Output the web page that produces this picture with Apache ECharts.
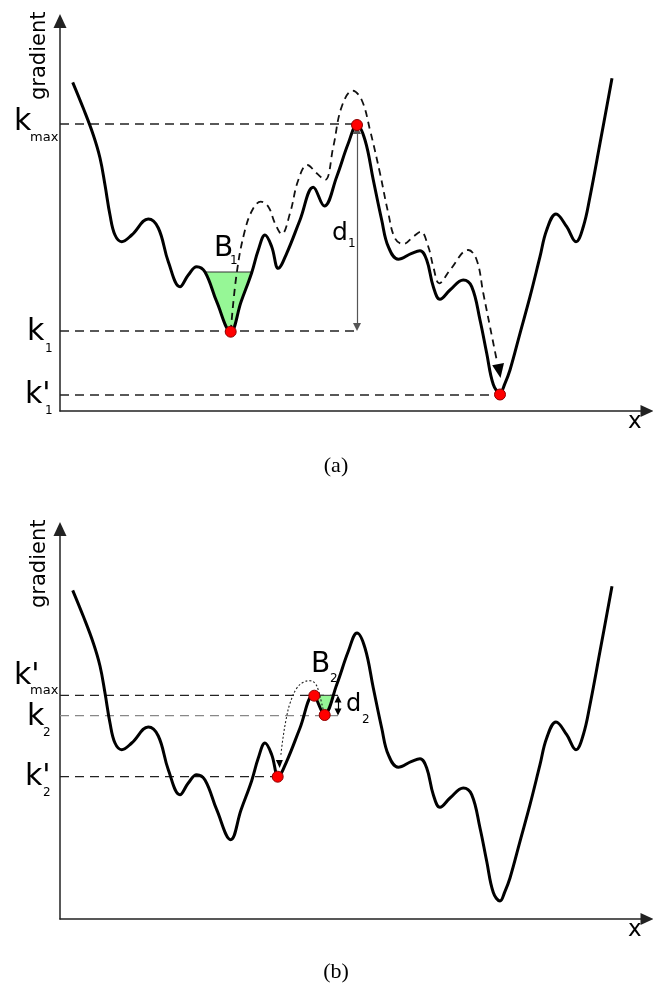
<!DOCTYPE html>
<html>
<head>
<meta charset="utf-8">
<script src="https://cdn.jsdelivr.net/npm/echarts@6/dist/echarts.min.js"></script>
<style>
  html, body { margin: 0; padding: 0; background: #fff; }
  #chart { width: 653px; height: 987px; }
</style>
</head>
<body>
<div id="chart"></div>
<script>
// energy landscape, same curve in both panels (x along axis, y height above x-axis)
const curveX = [12.7, 23.3, 33.3, 40, 45, 50, 55, 61.7, 71.7, 88.3, 98.3, 108.3, 120, 128.3, 136.7, 145, 156.7, 170.7, 181, 191.7,
  198.3, 205, 211.7, 218.3, 226.7, 240, 253.3, 264.3, 276.7, 288.3, 297, 305, 313.3, 321.7, 328.3, 338.3, 351.7, 360, 366.7, 373.3,
  380, 390, 403.3, 411.7, 420, 426.7, 433.3, 440, 445, 450, 460, 470, 480, 486.7, 496, 506.7, 516, 523.3, 530, 540, 552];
const curveY = [328.7, 302.7, 276, 253, 226, 196, 176, 169.3, 176, 192, 183, 149.3, 124.3, 136, 144.3, 139, 109.3, 79.3, 109, 138.3,
  161, 176, 164.3, 142.7, 157.7, 191, 223.7, 205, 234.3, 267.7, 286, 271, 231, 191, 164.3, 151.7, 157.7, 160.3, 151, 124.3,
  111.7, 121, 131, 124.3, 91, 57.7, 26.5, 18, 27.7, 41, 77.7, 114.3, 154.3, 181, 197, 184.3, 169.3, 184.3, 214.3, 267.7, 332.7];

// panel (a): dashed escape path from k1 over kmax down to k'1
const pathX = [170.7, 176.7, 185, 193.3, 200.7, 208.3, 215, 221.7, 230, 238.3, 247.3, 256.7, 265, 273.3, 281.7, 292.7, 301.7,
  310, 320, 328.3, 335, 343.3, 353.3, 360.7, 368.3, 373.3, 379.3, 390, 408.3, 416.7, 423.3, 430, 436.7];
const pathY = [79.3, 137.7, 181, 202.7, 209.3, 204.3, 187.7, 177, 197.7, 231, 246, 237.7, 231, 264.3, 304.3, 320.3, 311,
  281, 237.7, 197.7, 172.7, 167, 174.3, 179.3, 164.3, 144.3, 127.7, 141, 161, 151, 117.7, 84.3, 51];
const pathTip = [439.3, 40];

// panel (a) levels: kmax, k1, k'1
const levelsA = [287, 80, 16];
const levelsAEnd = [297, 297, 440];
const pointsA = [[170.7, 79.3], [297, 286], [440, 16.5]];
const d1 = [297, 281, 84];
// basin B1
const b1X = [145, 156.7, 170.7, 181, 191.7];
const b1Y = [139, 109.3, 79.3, 109, 139];
const b1Top = 139;

// panel (b) levels: k'max, k2, k'2
const levelsB = [223.7, 203.3, 142.3];
const levelsBEnd = [278, 278, 217.7];
const pointsB = [[217.7, 142.3], [254.3, 223.3], [264.7, 204]];
const d2 = [278, 220, 207];
// basin B2
const b2X = [257, 264.3, 272.2];
const b2Y = [223.7, 205, 223.7];
const b2Top = 223.7;
// dotted jump from k2 back to k'2
const arcX = [264, 261.7, 258.3, 255, 250, 243.3, 236.7, 230, 226, 222.7, 220.7];
const arcY = [205.7, 215.7, 229, 235.7, 238.3, 236.7, 230.7, 215.7, 199, 179, 162.3];
const arcTip = [219.5, 155];

const SMOOTH = 0.4;
const zip = (xs, ys) => xs.map((x, i) => [x, ys[i]]);
const curve = zip(curveX, curveY);

function levelSeries(g, ys, ends, colors) {
  return ys.map((y, i) => ({
    type: 'line', xAxisIndex: g, yAxisIndex: g, silent: true, symbol: 'none', z: 1,
    data: [[0, y], [ends[i], y]],
    lineStyle: { color: colors[i], width: 1.3, type: [9, 6] }
  }));
}

// green basin: area between the curve and the basin rim
function basinSeries(g, xs, ys, top) {
  return [
    { type: 'line', xAxisIndex: g, yAxisIndex: g, silent: true, symbol: 'none', smooth: SMOOTH, z: 2,
      data: zip(xs, ys), lineStyle: { opacity: 0 },
      areaStyle: { color: '#96f796', opacity: 1, origin: top } },
    { type: 'line', xAxisIndex: g, yAxisIndex: g, silent: true, symbol: 'none', z: 2,
      data: [[xs[0], top], [xs[xs.length - 1], top]],
      lineStyle: { color: '#333', width: 1 } }
  ];
}

function arrowSeries(g, d, color, size) {
  return {
    type: 'lines', coordinateSystem: 'cartesian2d', xAxisIndex: g, yAxisIndex: g, silent: true, z: 3,
    symbol: ['triangle', 'triangle'], symbolSize: size,
    lineStyle: { color: color, width: 1.2, opacity: 1 },
    data: [{ coords: [[d[0], d[1]], [d[0], d[2]]] }]
  };
}

function redPoints(g, pts) {
  return {
    type: 'scatter', xAxisIndex: g, yAxisIndex: g, silent: true, z: 6,
    symbolSize: 11, data: pts,
    itemStyle: { color: '#ff0000', borderColor: '#900000', borderWidth: 1, opacity: 1 }
  };
}

const axisX = g => ({
  gridIndex: g, type: 'value', min: 0, max: 587,
  axisLine: { show: true, onZero: false, symbol: ['none', 'triangle'], symbolSize: [12, 13],
    lineStyle: { color: '#222', width: 1.5 } },
  axisTick: { show: false }, axisLabel: { show: false }, splitLine: { show: false }
});
const axisY = g => ({
  gridIndex: g, type: 'value', min: 0, max: 390,
  axisLine: { show: true, onZero: false, symbol: ['none', 'triangle'], symbolSize: [13, 14],
    lineStyle: { color: '#222', width: 1.5 } },
  axisTick: { show: false }, axisLabel: { show: false }, splitLine: { show: false }
});

const series = [
  ...levelSeries(0, levelsA, levelsAEnd, ['#222', '#222', '#222']),
  ...basinSeries(0, b1X, b1Y, b1Top),
  arrowSeries(0, d1, '#555', 8),
  { type: 'line', xAxisIndex: 0, yAxisIndex: 0, silent: true, symbol: 'none', smooth: SMOOTH, z: 3,
    data: zip(pathX, pathY), lineStyle: { color: '#111', width: 1.8, type: [7, 5] } },
  { type: 'scatter', xAxisIndex: 0, yAxisIndex: 0, silent: true, z: 5, symbol: 'triangle',
    symbolSize: [12, 14], symbolRotate: 190, data: [pathTip], itemStyle: { color: '#000', opacity: 1 } },
  { type: 'line', xAxisIndex: 0, yAxisIndex: 0, silent: true, symbol: 'none', smooth: SMOOTH, z: 4,
    data: curve, lineStyle: { color: '#000', width: 3 } },
  redPoints(0, pointsA),

  ...levelSeries(1, levelsB, levelsBEnd, ['#222', '#888', '#222']),
  ...basinSeries(1, b2X, b2Y, b2Top),
  arrowSeries(1, d2, '#000', 7),
  { type: 'line', xAxisIndex: 1, yAxisIndex: 1, silent: true, symbol: 'none', smooth: SMOOTH, z: 3,
    data: zip(arcX, arcY), lineStyle: { color: '#222', width: 1.1, type: [2, 2] } },
  { type: 'scatter', xAxisIndex: 1, yAxisIndex: 1, silent: true, z: 5, symbol: 'triangle',
    symbolSize: [7, 8], symbolRotate: 182, data: [arcTip], itemStyle: { color: '#000', opacity: 1 } },
  { type: 'line', xAxisIndex: 1, yAxisIndex: 1, silent: true, symbol: 'none', smooth: SMOOTH, z: 4,
    data: curve, lineStyle: { color: '#000', width: 3 } },
  redPoints(1, pointsB)
];

// text: x = left edge, b = baseline
const SANS = 'DejaVu Sans';
function txt(x, b, s, size, family, align, rot) {
  return {
    type: 'text', x: x, y: b - 0.36 * size, rotation: rot || 0, z: 100, silent: true,
    style: { text: s, fontSize: size, fontFamily: family || SANS, fill: '#000',
      textAlign: align || 'left', textVerticalAlign: 'middle', verticalAlign: 'middle' }
  };
}
const labels = [
  // (a)
  txt(14, 133, 'k', 30), txt(30, 142, 'max', 13),
  txt(27, 343, 'k', 30), txt(45, 353, '1', 12),
  txt(25, 406, "k'", 30), txt(45, 415, '1', 12),
  txt(214, 259, 'B', 28), txt(230, 265, '1', 12),
  txt(332, 242, 'd', 25), txt(348, 248, '1', 12),
  txt(628, 430, 'x', 23),
  { type: 'text', x: 50, y: 100, rotation: Math.PI / 2, z: 100, silent: true,
    style: { text: 'gradient', fontSize: 21, fontFamily: SANS, fill: '#000', textAlign: 'left', verticalAlign: 'bottom', textVerticalAlign: 'bottom' } },
  txt(336, 474, '(a)', 22, 'Liberation Serif', 'center'),
  // (b)
  txt(14, 687, "k'", 30), txt(30, 695, 'max', 13),
  txt(27, 728, 'k', 30), txt(43, 737, '2', 12),
  txt(25, 788, "k'", 30), txt(43, 797, '2', 12),
  txt(311, 675, 'B', 28), txt(330, 683, '2', 12),
  txt(346, 713, 'd', 24), txt(362, 724, '2', 12),
  txt(628, 938, 'x', 23),
  { type: 'text', x: 50, y: 608, rotation: Math.PI / 2, z: 100, silent: true,
    style: { text: 'gradient', fontSize: 21, fontFamily: SANS, fill: '#000', textAlign: 'left', verticalAlign: 'bottom', textVerticalAlign: 'bottom' } },
  txt(336, 980, '(b)', 22, 'Liberation Serif', 'center')
];

const myChart = echarts.init(document.getElementById('chart'));
myChart.setOption({
  animation: false,
  backgroundColor: '#fff',
  grid: [
    { left: 60, right: 6, top: 21, height: 390 },
    { left: 60, right: 6, top: 529, height: 390 }
  ],
  xAxis: [axisX(0), axisX(1)],
  yAxis: [axisY(0), axisY(1)],
  series: series,
  graphic: labels
});
</script>
</body>
</html>
